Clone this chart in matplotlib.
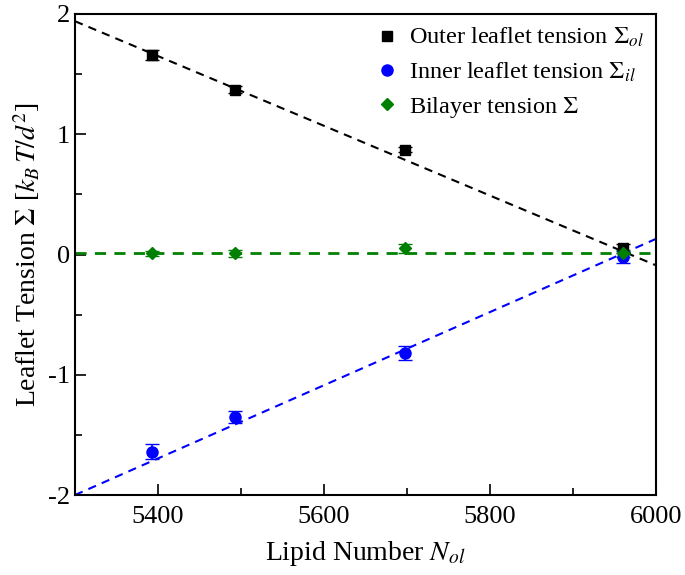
import numpy as np
import matplotlib
matplotlib.use("Agg")
import matplotlib.pyplot as plt
from matplotlib.ticker import MultipleLocator

plt.rcParams["font.family"] = ["Liberation Serif", "DejaVu Serif"]
plt.rcParams["mathtext.fontset"] = "stix"
plt.rcParams["axes.unicode_minus"] = False

# lipid numbers in the outer leaflet
n_ol = [5393, 5493, 5697, 5960]

outer = [1.66, 1.37, 0.87, 0.05]
outer_err = [0.04, 0.03, 0.02, 0.04]
inner = [-1.64, -1.35, -0.82, -0.02]
inner_err = [0.06, 0.05, 0.06, 0.05]
bilayer = [0.01, 0.01, 0.05, 0.01]
bilayer_err = [0.02, 0.03, 0.04, 0.03]

# linear fits, value at N=5300 and N=6000
fit_n = [5300, 6000]
outer_fit = [1.94, -0.09]
inner_fit = [-2.0, 0.13]
bilayer_fit = [0.01, 0.01]

fig = plt.figure(figsize=(6.85, 5.75), dpi=100)
ax = fig.add_axes([75 / 685, 1 - 495 / 575, 581 / 685, 481 / 575])

ax.plot(fit_n, outer_fit, "--", color="black", lw=1.5, dashes=(4, 3))
ax.plot(fit_n, inner_fit, "--", color="blue", lw=1.5, dashes=(4, 3))
ax.plot(fit_n, bilayer_fit, "--", color="#008000", lw=2, dashes=(4, 3))

ax.errorbar(n_ol, outer, yerr=outer_err, fmt="s", color="black", ms=7, capsize=5,
            lw=1.2, label=r"Outer leaflet tension $\Sigma_{ol}$")
ax.errorbar(n_ol, inner, yerr=inner_err, fmt="o", color="blue", ms=8, capsize=5,
            lw=1.2, label=r"Inner leaflet tension $\Sigma_{il}$")
ax.errorbar(n_ol, bilayer, yerr=bilayer_err, fmt="D", color="#008000", ms=6, capsize=5,
            lw=1.2, label=r"Bilayer tension $\Sigma$")

ax.set_xlim(5300, 6000)
ax.set_ylim(-2, 2)
ax.xaxis.set_major_locator(MultipleLocator(200))
ax.xaxis.set_minor_locator(MultipleLocator(100))
ax.yaxis.set_major_locator(MultipleLocator(1))
ax.yaxis.set_minor_locator(MultipleLocator(0.5))
ax.tick_params(which="both", direction="in", top=False, right=False, labelsize=19, width=1.2)
ax.tick_params(which="major", length=8)
ax.tick_params(which="minor", length=5)
ax.tick_params(axis="x", pad=8)
for s in ax.spines.values():
    s.set_linewidth(1.5)

ax.set_xlabel(r"Lipid Number $N_{ol}$", fontsize=20, labelpad=8)
ax.set_ylabel(r"Leaflet Tension $\Sigma$ [$k_B\,T/d^2$]", fontsize=20)

hs, ls = ax.get_legend_handles_labels()
hs = [h[0] for h in hs]
ax.legend(hs, ls, loc="upper right", frameon=False, fontsize=17.5, handletextpad=0.3,
          handlelength=1.2, borderaxespad=0.1, labelspacing=0.45)

fig.savefig("out.png", dpi=100)
